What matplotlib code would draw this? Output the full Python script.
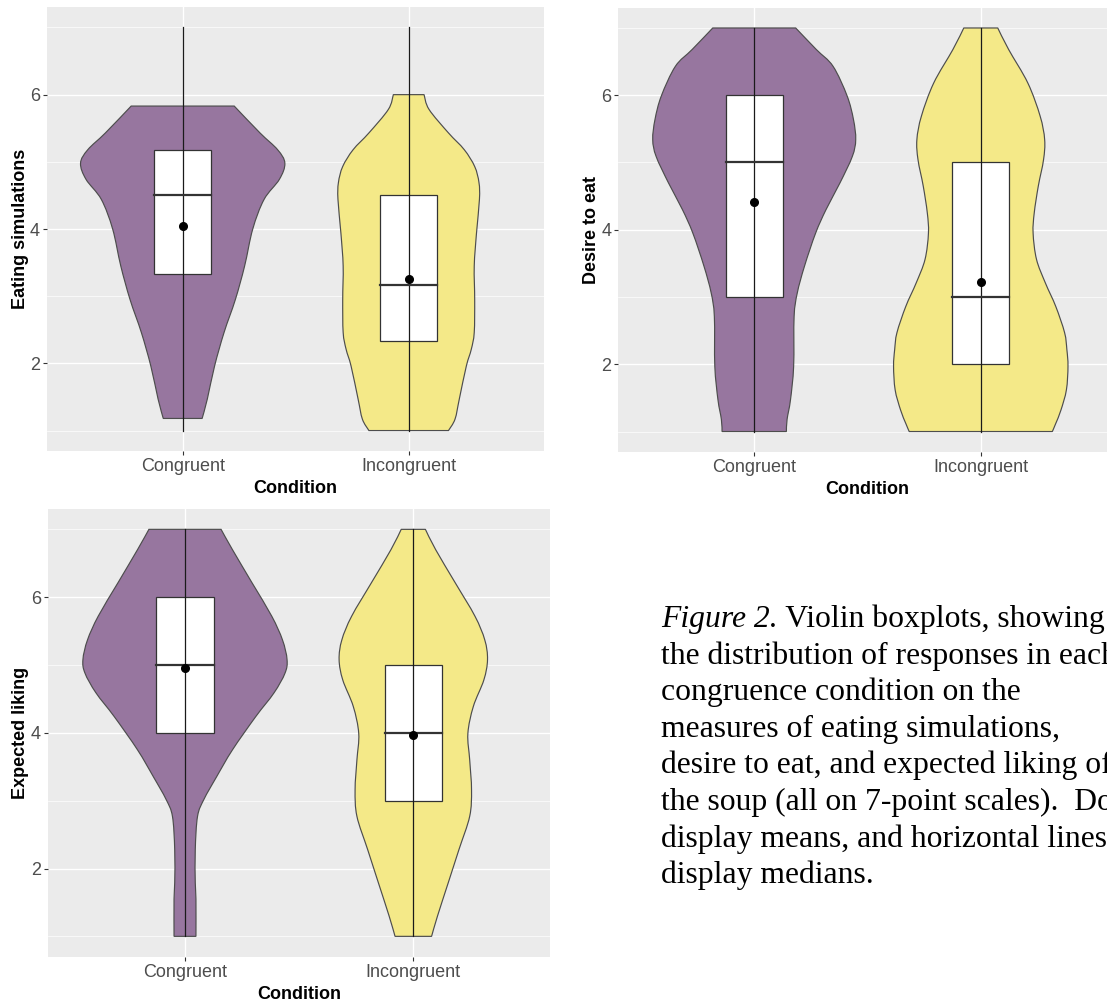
import numpy as np
import matplotlib

matplotlib.use("Agg")
import matplotlib.pyplot as plt
from matplotlib.path import Path
from matplotlib.patches import PathPatch, Rectangle

plt.rcParams["font.family"] = ["Liberation Sans", "DejaVu Sans"]

conditions = ["Congruent", "Incongruent"]

# violin outlines: y level and half width (in x units)
eat_con_y = [1.18, 1.47, 1.96, 2.46, 2.95, 3.45, 4.0, 4.44, 4.74, 4.98, 5.18, 5.43, 5.83]
eat_con_w = [0.086, 0.109, 0.141, 0.183, 0.233, 0.274, 0.31, 0.36, 0.428, 0.452, 0.42, 0.342, 0.228]
eat_inc_y = [1.0, 1.17, 1.47, 1.96, 2.21, 2.46, 2.95, 3.45, 3.94, 4.44, 4.69, 4.93, 5.18, 5.43, 5.78, 6.0]
eat_inc_w = [0.176, 0.205, 0.224, 0.255, 0.277, 0.29, 0.292, 0.29, 0.30, 0.313, 0.311, 0.292, 0.246, 0.176, 0.09, 0.068]

des_con_y = [1.0, 1.18, 1.47, 1.97, 2.71, 3.06, 3.46, 3.95, 4.30, 4.70, 5.09, 5.34, 5.64, 5.99, 6.43, 6.68, 7.0]
des_con_w = [0.142, 0.145, 0.16, 0.174, 0.176, 0.19, 0.222, 0.271, 0.317, 0.379, 0.433, 0.448, 0.438, 0.41, 0.348, 0.274, 0.183]
des_inc_y = [1.0, 1.12, 1.32, 1.62, 1.97, 2.22, 2.47, 2.86, 3.21, 3.56, 3.95, 4.25, 4.65, 5.04, 5.34, 5.69, 6.18, 6.68, 7.0]
des_inc_w = [0.316, 0.331, 0.354, 0.378, 0.385, 0.38, 0.37, 0.331, 0.285, 0.246, 0.231, 0.236, 0.254, 0.277, 0.282, 0.262, 0.208, 0.123, 0.075]

lik_con_y = [1.0, 1.55, 1.79, 2.28, 2.77, 3.02, 3.35, 3.75, 4.24, 4.59, 4.88, 5.08, 5.37, 5.72, 6.21, 6.70, 7.0]
lik_con_w = [0.048, 0.048, 0.045, 0.045, 0.055, 0.083, 0.138, 0.208, 0.31, 0.39, 0.438, 0.447, 0.427, 0.38, 0.294, 0.208, 0.158]
lik_inc_y = [1.0, 1.30, 1.79, 2.28, 2.77, 3.16, 3.60, 3.99, 4.39, 4.78, 5.08, 5.37, 5.72, 6.21, 6.70, 7.0]
lik_inc_w = [0.08, 0.106, 0.153, 0.2, 0.247, 0.255, 0.247, 0.239, 0.263, 0.309, 0.325, 0.313, 0.27, 0.184, 0.098, 0.053]

# box statistics per condition (Congruent, Incongruent)
eat_q1, eat_med, eat_q3, eat_mean = [3.33, 2.34], [4.5, 3.17], [5.17, 4.5], [4.04, 3.25]
des_q1, des_med, des_q3, des_mean = [3.0, 2.0], [5.0, 3.0], [6.0, 5.0], [4.41, 3.22]
lik_q1, lik_med, lik_q3, lik_mean = [4.0, 3.0], [5.0, 4.0], [6.0, 5.0], [4.96, 3.97]
whisk_lo = [1.0, 1.0]
whisk_hi = [7.0, 7.0]

caption_lines = [
    "the distribution of responses in each",
    "congruence condition on the",
    "measures of eating simulations,",
    "desire to eat, and expected liking of",
    "the soup (all on 7-point scales).  Dots",
    "display means, and horizontal lines",
    "display medians.",
]

fills = ["#97769F", "#F4E988"]
W, H = 1107, 1002


def smooth_side(pts):
    # catmull-rom through the read points, drawn as cubic bezier segments
    verts, codes = [], []
    n = len(pts)
    for i in range(n - 1):
        p0 = pts[max(i - 1, 0)]
        p1 = pts[i]
        p2 = pts[i + 1]
        p3 = pts[min(i + 2, n - 1)]
        verts += [p1 + (p2 - p0) / 6, p2 - (p3 - p1) / 6, p2]
        codes += [Path.CURVE4] * 3
    return verts, codes


def violin_path(x0, ys, hw):
    ys = np.asarray(ys, float)
    hw = np.asarray(hw, float)
    right = np.column_stack([x0 + hw, ys])
    left = np.column_stack([x0 - hw, ys])[::-1]
    verts, codes = [right[0]], [Path.MOVETO]
    v, c = smooth_side(right)
    verts += v
    codes += c
    verts.append(left[0])
    codes.append(Path.LINETO)
    v, c = smooth_side(left)
    verts += v
    codes += c
    verts.append(right[0])
    codes.append(Path.CLOSEPOLY)
    return Path(verts, codes)


def draw_panel(rect, outlines, q1, med, q3, mean, ylabel):
    l, t, r, b = rect
    ax = fig.add_axes([l / W, 1 - b / H, (r - l) / W, (b - t) / H])
    ax.set_facecolor("#EBEBEB")
    for s in ax.spines.values():
        s.set_visible(False)
    ax.set_axisbelow(True)

    for i, (ys, hw) in enumerate(outlines):
        x0 = i + 1
        ax.add_patch(
            PathPatch(violin_path(x0, ys, hw), facecolor=fills[i],
                      edgecolor="#4D4D4D", lw=0.85, zorder=2)
        )
        ax.add_patch(
            Rectangle((x0 - 0.125, q1[i]), 0.25, q3[i] - q1[i], facecolor="white",
                      edgecolor="#333333", lw=0.9, zorder=3)
        )
        ax.plot([x0, x0], [whisk_lo[i], whisk_hi[i]], color="#1A1A1A", lw=0.9, zorder=4)
        ax.plot([x0 - 0.125, x0 + 0.125], [med[i], med[i]], color="#333333", lw=1.6, zorder=5)
        ax.plot(x0, mean[i], "o", color="black", ms=5.5, zorder=6)

    ax.set_xlim(0.4, 2.6)
    ax.set_ylim(0.7, 7.3)
    ax.set_xticks([1, 2])
    ax.set_xticklabels(conditions)
    ax.set_yticks([2, 4, 6])
    ax.set_yticks([1, 3, 5, 7], minor=True)
    ax.grid(which="major", color="white", lw=1.0)
    ax.grid(which="minor", axis="y", color="white", lw=0.5)
    ax.tick_params(which="major", length=2.9, width=0.8, color="#333333",
                   labelcolor="#4D4D4D", labelsize=13, pad=2.2)
    ax.tick_params(which="minor", length=0)
    ax.set_xlabel("Condition", fontsize=13, fontweight="bold", labelpad=3.5)
    ax.set_ylabel(ylabel, fontsize=13, fontweight="bold", labelpad=1)
    return ax


fig = plt.figure(figsize=(W / 100, H / 100), dpi=100)

draw_panel((47.1, 7.3, 544.3, 450.7),
           [(eat_con_y, eat_con_w), (eat_inc_y, eat_inc_w)],
           eat_q1, eat_med, eat_q3, eat_mean, "Eating simulations")
draw_panel((618.3, 7.8, 1116.7, 451.7),
           [(des_con_y, des_con_w), (des_inc_y, des_inc_w)],
           des_q1, des_med, des_q3, des_mean, "Desire to eat")
draw_panel((48.0, 509.0, 550.3, 956.7),
           [(lik_con_y, lik_con_w), (lik_inc_y, lik_inc_w)],
           lik_q1, lik_med, lik_q3, lik_mean, "Expected liking")

# caption, cut off by the right edge like the source
cap_font = dict(family=["Liberation Serif", "DejaVu Serif"], fontsize=22.8, color="black",
                va="baseline", ha="left")
x_cap = 661 / W
base0 = 627.0
step = 36.6
t0 = fig.text(x_cap, 1 - base0 / H, "Figure 2.", style="italic", **cap_font)
bb = t0.get_window_extent(fig.canvas.get_renderer())
fig.text(bb.x1 / W, 1 - base0 / H, " Violin boxplots, showing", **cap_font)
for k, line in enumerate(caption_lines):
    fig.text(x_cap, 1 - (base0 + step * (k + 1)) / H, line, **cap_font)

fig.savefig("out.png", dpi=100)
